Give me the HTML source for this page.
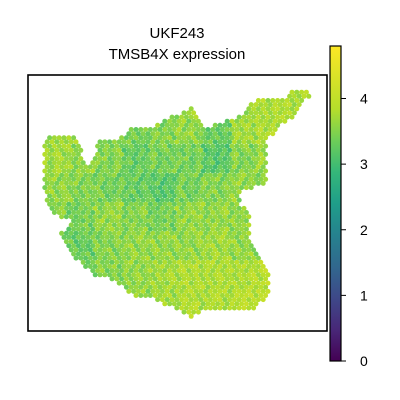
<!DOCTYPE html>
<html><head><meta charset="utf-8"><style>
body{margin:0;background:#fff}
svg{display:block;font-family:"Liberation Sans",sans-serif}
</style></head><body>
<svg id="chart" width="400" height="400">
<text x="177" y="38" font-size="15" text-anchor="middle">UKF243</text>
<text x="177" y="59" font-size="15" text-anchor="middle">TMSB4X expression</text>
<g id="spots"></g>
<rect x="28" y="75" width="299" height="256" fill="none" stroke="#000" stroke-width="1.6"/>
<defs><linearGradient id="vir" x1="0" y1="1" x2="0" y2="0">
<stop offset="0" stop-color="#440154"/><stop offset="0.1" stop-color="#482878"/><stop offset="0.2" stop-color="#3e4989"/><stop offset="0.3" stop-color="#31688e"/><stop offset="0.4" stop-color="#26828e"/><stop offset="0.5" stop-color="#1f9e89"/><stop offset="0.6" stop-color="#35b779"/><stop offset="0.7" stop-color="#6ece58"/><stop offset="0.8" stop-color="#b5de2b"/><stop offset="1" stop-color="#fde725"/>
</linearGradient></defs>
<rect x="330" y="46" width="11" height="315" fill="url(#vir)" stroke="#000" stroke-width="1.2"/>
<g id="cbticks"></g>
</svg>
<script>
const cbTicks=[0,1,2,3,4];
const cbMax=4.8;
const outline=[[43,138],[73,135],[90,168],[98,142],[125,137],[128,128],[158,125],[175,115],[191,108],[205,127],[215,125],[241,115],[258,97],[285,98],[291,88],[311,93],[298,113],[281,125],[266,142],[268,182],[241,192],[241,205],[251,215],[251,238],[261,255],[270,272],[268,292],[258,308],[205,308],[191,317],[175,308],[148,297],[128,295],[118,282],[95,275],[81,265],[68,248],[61,232],[75,222],[55,215],[46,198],[43,175]];
const gridVals=[
[3.6,3.6,3.5,3.5,3.6,3.6,3.7,3.7,3.8,3.8],
[3.7,3.7,3.5,3.4,3.5,3.6,3.3,3.7,3.8,3.8],
[3.7,3.6,3.5,3.3,3.4,3.4,3.2,3.5,3.7,3.6],
[3.6,3.5,3.4,3.3,3.2,3.4,3.5,3.6,3.5,3.5],
[3.5,3.4,3.6,3.5,3.4,3.6,3.6,3.6,3.6,3.5],
[3.4,3.3,3.5,3.6,3.6,3.6,3.7,3.6,3.7,3.6],
[3.4,3.4,3.5,3.6,3.7,3.8,3.8,3.8,3.9,3.8],
[3.3,3.4,3.5,3.6,3.7,3.8,3.8,3.9,4.0,3.9]];
const jitter=[0.1,-0.15,0.05,0.2,-0.1,0,-0.2,0.15,-0.05,0.1,0.25,-0.25,0,0.05,-0.1,0.15,-0.2];
const stops=[[0,68,1,84],[.1,72,40,120],[.2,62,73,137],[.3,49,104,142],[.4,38,130,142],[.5,31,158,137],[.6,53,183,121],[.7,110,206,88],[.8,181,222,43],[1,253,231,37]];
function vir(t){t=Math.max(0,Math.min(1,t));for(let i=1;i<stops.length;i++){if(t<=stops[i][0]){const a=stops[i-1],b=stops[i],f=(t-a[0])/(b[0]-a[0]);return `rgb(${[1,2,3].map(k=>Math.round(a[k]+(b[k]-a[k])*f)).join(',')})`;}}return 'rgb(253,231,37)';}
function inside(x,y){let c=false;for(let i=0,j=outline.length-1;i<outline.length;j=i++){const [xi,yi]=outline[i],[xj,yj]=outline[j];if(((yi>y)!=(yj>y))&&(x<(xj-xi)*(y-yi)/(yj-yi)+xi))c=!c;}return c;}
const NS='http://www.w3.org/2000/svg';
const g=document.getElementById('spots');
let n=0;
for(let r=0;;r++){const y=88+r*4.15;if(y>318)break;
 for(let x=40+(r%2)*2.4;x<313;x+=4.8){
  if(!inside(x,y))continue;
  const gi=Math.min(7,Math.floor((y-88)/29)),gj=Math.min(9,Math.floor((x-40)/27.2));
  const v=gridVals[gi][gj]+jitter[n%jitter.length];n++;
  const c=document.createElementNS(NS,'circle');
  c.setAttribute('cx',x.toFixed(1));c.setAttribute('cy',y.toFixed(1));c.setAttribute('r','2.5');
  c.setAttribute('fill',vir(v/cbMax));
  
  
  g.appendChild(c);
 }}
const tg=document.getElementById('cbticks');
cbTicks.forEach(t=>{const y=361-t*(315/cbMax);
 const l=document.createElementNS(NS,'line');l.setAttribute('x1',341);l.setAttribute('x2',346);l.setAttribute('y1',y);l.setAttribute('y2',y);l.setAttribute('stroke','#000');
 
 
 tg.appendChild(l);
 const tx=document.createElementNS(NS,'text');tx.setAttribute('x',360);tx.setAttribute('y',y+5);tx.setAttribute('font-size','14');tx.textContent=t;
 
 
 tg.appendChild(tx);});
</script>
</body></html>
